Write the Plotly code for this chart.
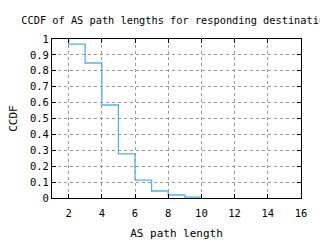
import plotly.graph_objects as go

path_len = [2, 2, 3, 4, 5, 6, 7, 8, 9, 10]
ccdf = [1.0, 0.968, 0.849, 0.585, 0.277, 0.113, 0.044, 0.019, 0.006, 0.006]

x_ticks = [2, 4, 6, 8, 10, 12, 14, 16]
y_ticks = [0, 0.1, 0.2, 0.3, 0.4, 0.5, 0.6, 0.7, 0.8, 0.9, 1]
y_labels = ["0", "0.1", "0.2", "0.3", "0.4", "0.5", "0.6", "0.7", "0.8", "0.9", "1"]

font = "DejaVu Sans Mono"

fig = go.Figure()
fig.add_trace(go.Scatter(x=path_len, y=ccdf, mode="lines", line_shape="hv",
                         line=dict(color="#56b1e6", width=1.3), showlegend=False))

axis_common = dict(showline=True, linecolor="black", linewidth=1, mirror="ticks",
                   ticks="inside", ticklen=4, tickcolor="black", automargin=False,
                   showgrid=True, gridcolor="#9a9a9a", griddash="dot", gridwidth=1,
                   zeroline=False, tickfont=dict(family=font, size=10.5, color="black"))

fig.update_xaxes(range=[1, 16], tickvals=x_ticks, ticklabelstandoff=5, **axis_common,
                 title=dict(text="AS path length", font=dict(family=font, size=11, color="black"), standoff=12))
fig.update_yaxes(range=[0, 1], tickvals=y_ticks, ticktext=y_labels, **axis_common,
                 title=dict(text="CCDF", font=dict(family=font, size=11, color="black"), standoff=10))

fig.update_layout(
    width=320, height=240,
    margin=dict(l=52, r=19, t=39, b=42, autoexpand=False),
    plot_bgcolor="white", paper_bgcolor="white",
    title=dict(text="CCDF of AS path lengths for responding destination",
               font=dict(family=font, size=10.3, color="black"),
               x=0.551, xanchor="center", y=0.915, yanchor="middle"),
)

fig.write_html("out.html")
